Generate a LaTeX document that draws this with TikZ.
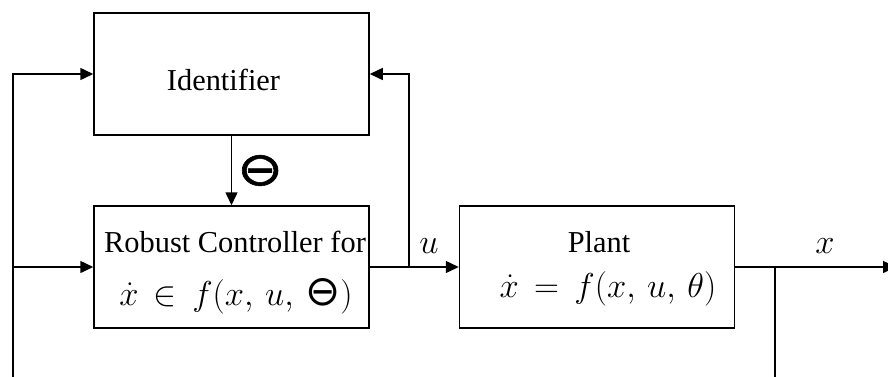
\documentclass[tikz,border=0pt]{standalone}
\usepackage{fontspec}
\setmainfont{Liberation Serif}
\newfontfamily\symfont{DejaVu Sans}
\newfontfamily\symboldfont[FakeBold=1.2]{DejaVu Sans}
\usepackage{graphicx}
\usetikzlibrary{arrows.meta}
\newcommand{\circtheta}{\mbox{\symfont\fontsize{21}{22}\selectfont ⊖}}
\begin{document}
\begin{tikzpicture}[x=0.5pt,y=-0.5pt,line width=0.75pt,
  >={Triangle[length=6.5pt,width=6pt]},
  blockbox/.style={draw,minimum width=137.5pt,minimum height=61pt,inner sep=0pt},
  txt/.style={inner sep=0pt,anchor=base,font=\fontsize{15.2}{18}\selectfont},
  mth/.style={inner sep=0pt,anchor=base,font=\fontsize{16.5}{20}\selectfont},
  lbl/.style={inner sep=0pt,anchor=base,font=\fontsize{17}{20}\selectfont}]
\useasboundingbox (0,0) rectangle (888,376);
\clip (0,0) rectangle (888,376);
\node[blockbox] (ident) at (231.5,74) {};
\node[blockbox] (ctrl) at (231.5,267) {};
\node[blockbox] (plant) at (597,267) {};
\node[txt] (identtxt) at (223.5,90) {Identifier};
\node[txt] (ctrltxt) at (235,252) {Robust Controller for};
\node[mth] (ctrlmath) at (236,305) {$\dot{x}\,\in\,f(x,\,u,\,\circtheta)$};
\node[txt] (planttxt) at (599,252) {Plant};
\node[mth] (plantmath) at (608,297) {$\dot{x}\,=\,f(x,\,u,\,\theta)$};
\coordinate (lb) at (13,390);
\coordinate (lj) at (13,267);
\coordinate (lt) at (13,74);
\coordinate (uj) at (409,267);
\coordinate (ut) at (409,74);
\coordinate (xj) at (775,267);
\coordinate (xb) at (775,390);
\coordinate (out) at (896,267);
\draw[->] (lb) -- (lt) -- (ident.west);
\draw[->] (lj) -- (ctrl.west);
\draw[->] (ctrl.east) -- (plant.west);
\draw[->] (uj) -- (ut) -- (ident.east);
\draw[->] (ident.south) -- node[midway,right=2.5pt,inner sep=0pt] (thlbl) {\scalebox{1.05}[0.9]{\symboldfont\fontsize{26}{28}\selectfont ⊖}} (ctrl.north);
\draw[->] (plant.east) -- (out);
\draw (xj) -- (xb);
\node[lbl] (ulbl) at (429,253) {$u$};
\node[lbl] (xlbl) at (825,253) {$x$};
\end{tikzpicture}
\end{document}
